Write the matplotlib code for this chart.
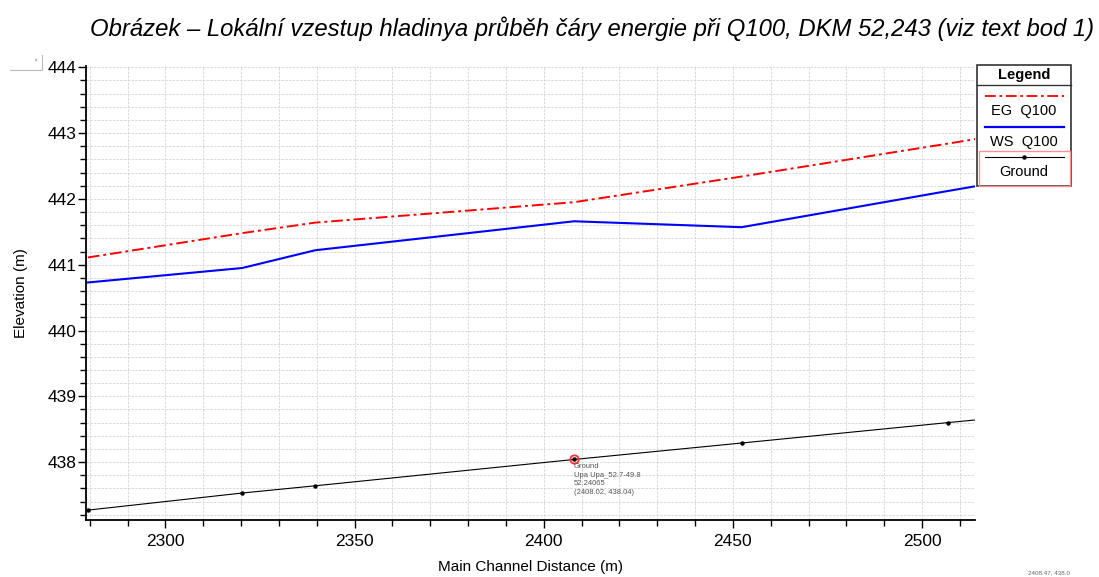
import numpy as np
import matplotlib.pyplot as plt
from matplotlib.ticker import MultipleLocator
from matplotlib.patches import Rectangle

# river stations (main channel distance, m)
stations = [2279.5, 2320.3, 2339.6, 2408.02, 2452.3, 2506.8, 2530.0]
eg_q100 = [441.11, 441.48, 441.64, 441.95, 442.34, 442.84, 443.06]
ws_q100 = [440.73, 440.95, 441.22, 441.66, 441.57, 442.12, 442.35]
ground = [437.27, 437.53, 437.64, 438.04, 438.29, 438.60, 438.73]

sel_x, sel_y = 2408.02, 438.04
sel_text = "Ground\nUpa Upa_52.7-49.8\n52.24065\n(2408.02, 438.04)"

title = "Obrázek – Lokální vzestup hladinya průběh čáry energie při Q100, DKM 52,243 (viz text bod 1)"

W, H = 1099, 577
fig = plt.figure(figsize=(W/100, H/100), dpi=100, facecolor='white')
plt.rcParams['font.family'] = ['Liberation Sans', 'DejaVu Sans']

ax = fig.add_axes([86/W, 1 - 520/H, 889/W, 454/H])
ax.set_xlim(2279, 2514)
ax.set_ylim(437.12, 444.02)

ax.plot(stations, eg_q100, color='#ff0000', lw=1.4, linestyle=(0, (6, 2, 1.5, 2)), zorder=3)
ax.plot(stations, ws_q100, color='#0000ff', lw=1.5, zorder=3)
ax.plot(stations, ground, color='black', lw=0.8, marker='o', ms=2.2, zorder=3)
ax.plot([sel_x], [sel_y], marker='o', ms=6, mfc='none', mec='#ff3030', mew=1.3, zorder=4)
ax.text(sel_x, sel_y - 0.05, sel_text, fontsize=5.5, color='#555555', va='top', ha='left',
        linespacing=1.35, zorder=4)

ax.xaxis.set_major_locator(MultipleLocator(50))
ax.xaxis.set_minor_locator(MultipleLocator(10))
ax.yaxis.set_major_locator(MultipleLocator(1))
ax.yaxis.set_minor_locator(MultipleLocator(0.2))
ax.grid(which='both', color='#d4d4d4', lw=0.6, linestyle=(0, (3, 1.5)))
ax.set_axisbelow(True)
ax.tick_params(which='major', length=6, width=1, labelsize=12.5, direction='out')
ax.tick_params(which='minor', length=4, width=1, direction='out')
ax.tick_params(axis='x', which='major', pad=4)
ax.tick_params(axis='y', which='major', pad=1)
for s in ['top', 'right']:
    ax.spines[s].set_visible(False)
for s in ['left', 'bottom']:
    ax.spines[s].set_linewidth(1.3)
ax.set_xlabel("Main Channel Distance (m)", fontsize=11, labelpad=8)
ax.set_ylabel("Elevation (m)", fontsize=11, labelpad=14)

# overlay in pixel coordinates for title, legend and small extras
ov = fig.add_axes([0, 0, 1, 1], facecolor='none')
ov.set_xlim(0, W)
ov.set_ylim(H, 0)
ov.axis('off')

ov.text(1094, 29, title, fontsize=17.2, style='italic', ha='right', va='center')

# legend box
ov.add_patch(Rectangle((977, 65), 94, 121, fill=False, ec='#333333', lw=1.2))
ov.plot([977, 1071], [85, 85], color='#333333', lw=1)
ov.text(1024, 75, "Legend", fontsize=10.5, fontweight='bold', ha='center', va='center')
ov.plot([985, 1064], [96, 96], color='#ff0000', lw=1.3, linestyle=(0, (6, 2, 1.5, 2)))
ov.text(1024, 111, "EG  Q100", fontsize=10.5, ha='center', va='center')
ov.plot([985, 1064], [127, 127], color='#0000ff', lw=1.6)
ov.text(1024, 142, "WS  Q100", fontsize=10.5, ha='center', va='center')
ov.add_patch(Rectangle((979, 151), 91, 35, fill=False, ec='#ff9090', lw=1))
ov.plot([985, 1064], [157, 157], color='black', lw=0.8)
ov.plot([1024], [157], marker='o', ms=2.2, color='black')
ov.text(1024, 172, "Ground", fontsize=10.5, ha='center', va='center')

# small artefacts
ov.plot([10, 42, 42], [70, 70, 55], color='#bbbbbb', lw=0.8)
ov.text(36, 60, "\u2e17", fontsize=5, color='#555599', ha='center', va='center')
ov.text(1028, 575, "2408.47, 438.0", fontsize=4.5, color='#666666', ha='left', va='bottom')

fig.savefig('out.png', dpi=100)
